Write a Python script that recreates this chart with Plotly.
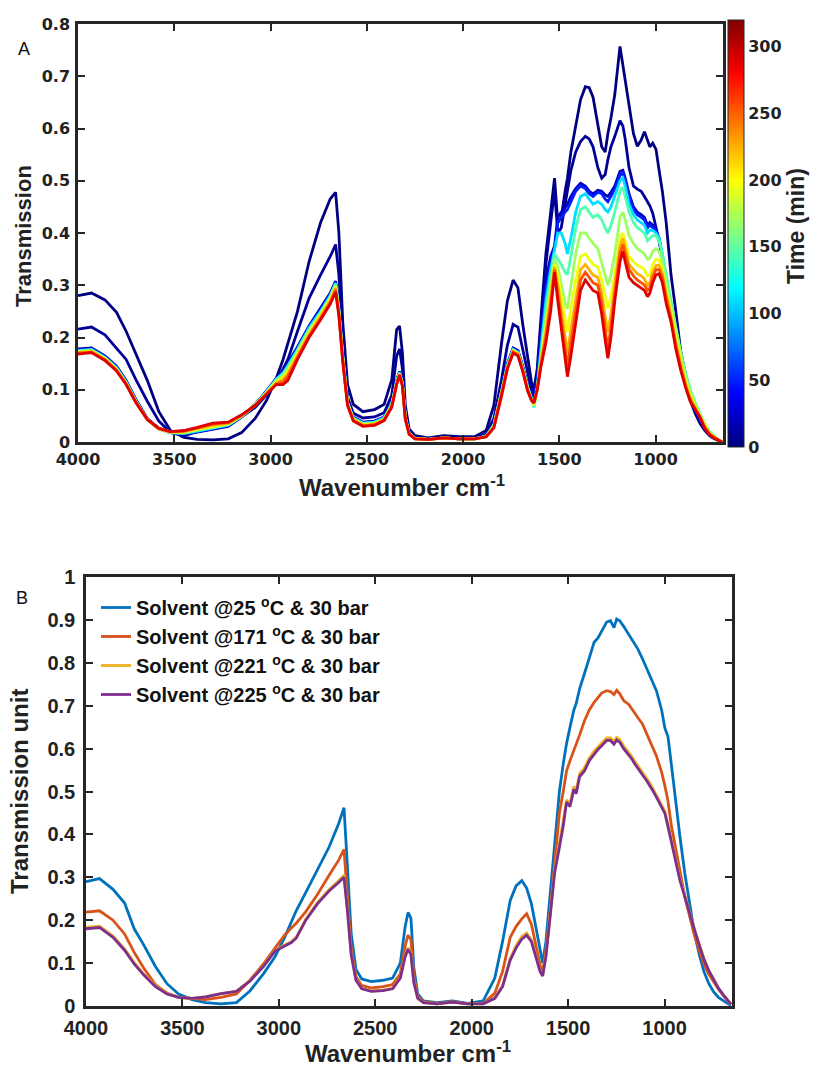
import plotly.graph_objects as go
from plotly.colors import sample_colorscale

# Shared wavenumber grid (cm^-1), high to low
wavenumber = [
    4000, 3930, 3860, 3800, 3750, 3700, 3640, 3580, 3520, 3450,
    3380, 3300, 3220, 3150, 3080, 3020, 2970, 2935, 2910, 2860,
    2800, 2740, 2690, 2662, 2645, 2625, 2600, 2570, 2520, 2460,
    2410, 2370, 2345, 2330, 2315, 2300, 2280, 2250, 2180, 2100,
    2020, 1940, 1880, 1840, 1800, 1770, 1740, 1715, 1690, 1665,
    1645, 1632, 1615, 1595, 1570, 1545, 1525, 1508, 1490, 1470,
    1458, 1440, 1415, 1390, 1365, 1345, 1325, 1300, 1280, 1262,
    1248, 1232, 1212, 1185, 1170, 1158, 1138, 1115, 1095, 1075,
    1058, 1042, 1030, 1015, 998, 982, 965, 945, 920, 895,
    870, 845, 820, 795, 770, 745, 720, 695, 670, 655]

# ---- Panel A: spectra recorded over time (minutes) ----
time_min = [0, 8, 20, 50, 110, 145, 170, 195, 225, 255, 290]

spec_t000 = [
    0.280, 0.285, 0.272, 0.248, 0.212, 0.170, 0.118, 0.058, 0.022, 0.009,
    0.005, 0.004, 0.006, 0.018, 0.045, 0.080, 0.122, 0.158, 0.188, 0.250,
    0.345, 0.420, 0.465, 0.478, 0.400, 0.230, 0.110, 0.072, 0.058, 0.062,
    0.072, 0.120, 0.215, 0.222, 0.170, 0.070, 0.025, 0.012, 0.008, 0.012,
    0.010, 0.010, 0.022, 0.070, 0.190, 0.270, 0.310, 0.295, 0.225, 0.160,
    0.115, 0.100, 0.140, 0.240, 0.360, 0.440, 0.505, 0.420, 0.430, 0.480,
    0.505, 0.555, 0.605, 0.655, 0.680, 0.678, 0.660, 0.605, 0.565, 0.555,
    0.590, 0.620, 0.665, 0.757, 0.720, 0.690, 0.640, 0.590, 0.566, 0.578,
    0.594, 0.575, 0.565, 0.572, 0.560, 0.520, 0.480, 0.420, 0.320, 0.250,
    0.175, 0.130, 0.095, 0.065, 0.042, 0.026, 0.014, 0.007, 0.003, 0.000]

spec_t008 = [
    0.216, 0.220, 0.205, 0.180, 0.158, 0.120, 0.078, 0.040, 0.018, 0.012,
    0.020, 0.026, 0.034, 0.048, 0.066, 0.090, 0.115, 0.140, 0.158, 0.212,
    0.275, 0.320, 0.355, 0.378, 0.320, 0.190, 0.085, 0.055, 0.046, 0.048,
    0.056, 0.090, 0.165, 0.178, 0.140, 0.055, 0.020, 0.010, 0.006, 0.010,
    0.008, 0.008, 0.015, 0.045, 0.120, 0.185, 0.225, 0.220, 0.175, 0.130,
    0.100, 0.090, 0.125, 0.220, 0.340, 0.420, 0.480, 0.400, 0.410, 0.455,
    0.480, 0.520, 0.555, 0.575, 0.585, 0.580, 0.565, 0.525, 0.505, 0.512,
    0.540, 0.565, 0.585, 0.615, 0.605, 0.580, 0.525, 0.490, 0.484, 0.480,
    0.470, 0.460, 0.452, 0.438, 0.412, 0.385, 0.355, 0.305, 0.250, 0.200,
    0.150, 0.112, 0.080, 0.055, 0.036, 0.022, 0.012, 0.006, 0.002, 0.000]

spec_t020 = [
    0.178, 0.180, 0.165, 0.145, 0.118, 0.082, 0.045, 0.026, 0.018, 0.016,
    0.019, 0.024, 0.030, 0.048, 0.072, 0.098, 0.122, 0.135, 0.150, 0.182,
    0.222, 0.255, 0.285, 0.308, 0.260, 0.170, 0.080, 0.048, 0.038, 0.040,
    0.048, 0.075, 0.118, 0.135, 0.115, 0.050, 0.018, 0.008, 0.005, 0.008,
    0.006, 0.006, 0.012, 0.035, 0.100, 0.150, 0.180, 0.175, 0.145, 0.110,
    0.090, 0.088, 0.125, 0.215, 0.310, 0.355, 0.375, 0.430, 0.440, 0.450,
    0.455, 0.470, 0.485, 0.495, 0.490, 0.480, 0.475, 0.482, 0.480, 0.473,
    0.470, 0.478, 0.490, 0.518, 0.520, 0.505, 0.475, 0.450, 0.440, 0.435,
    0.430, 0.415, 0.420, 0.415, 0.405, 0.385, 0.350, 0.300, 0.245, 0.195,
    0.150, 0.112, 0.083, 0.060, 0.042, 0.027, 0.015, 0.008, 0.003, 0.000]

spec_t050 = [
    0.176, 0.178, 0.163, 0.143, 0.116, 0.080, 0.044, 0.025, 0.018, 0.016,
    0.020, 0.025, 0.031, 0.048, 0.072, 0.098, 0.121, 0.134, 0.148, 0.180,
    0.220, 0.253, 0.283, 0.306, 0.258, 0.168, 0.078, 0.047, 0.037, 0.039,
    0.047, 0.074, 0.117, 0.134, 0.114, 0.049, 0.018, 0.008, 0.005, 0.008,
    0.006, 0.006, 0.012, 0.034, 0.098, 0.148, 0.178, 0.173, 0.143, 0.108,
    0.088, 0.080, 0.115, 0.200, 0.290, 0.345, 0.370, 0.420, 0.430, 0.440,
    0.445, 0.460, 0.480, 0.490, 0.485, 0.475, 0.470, 0.478, 0.475, 0.465,
    0.460, 0.470, 0.485, 0.510, 0.515, 0.500, 0.470, 0.445, 0.435, 0.430,
    0.425, 0.410, 0.415, 0.410, 0.405, 0.390, 0.355, 0.305, 0.255, 0.205,
    0.160, 0.120, 0.090, 0.066, 0.047, 0.030, 0.017, 0.009, 0.003, 0.000]

spec_t110 = [
    0.175, 0.177, 0.162, 0.142, 0.115, 0.079, 0.043, 0.025, 0.018, 0.016,
    0.021, 0.026, 0.032, 0.049, 0.072, 0.097, 0.120, 0.132, 0.146, 0.177,
    0.218, 0.250, 0.280, 0.304, 0.255, 0.166, 0.076, 0.046, 0.036, 0.038,
    0.046, 0.073, 0.116, 0.133, 0.113, 0.048, 0.017, 0.007, 0.005, 0.008,
    0.006, 0.006, 0.011, 0.033, 0.096, 0.146, 0.177, 0.172, 0.141, 0.106,
    0.085, 0.070, 0.105, 0.180, 0.270, 0.330, 0.365, 0.400, 0.400, 0.380,
    0.360, 0.390, 0.440, 0.470, 0.475, 0.465, 0.455, 0.460, 0.455, 0.445,
    0.440, 0.450, 0.470, 0.500, 0.505, 0.490, 0.455, 0.435, 0.425, 0.420,
    0.415, 0.400, 0.405, 0.405, 0.400, 0.390, 0.360, 0.315, 0.265, 0.215,
    0.168, 0.128, 0.097, 0.072, 0.052, 0.034, 0.019, 0.010, 0.003, 0.000]

spec_t145 = [
    0.174, 0.176, 0.161, 0.141, 0.114, 0.078, 0.043, 0.025, 0.018, 0.017,
    0.022, 0.028, 0.033, 0.049, 0.071, 0.096, 0.119, 0.130, 0.143, 0.175,
    0.215, 0.248, 0.278, 0.302, 0.253, 0.164, 0.075, 0.045, 0.035, 0.037,
    0.045, 0.072, 0.115, 0.132, 0.112, 0.047, 0.017, 0.007, 0.005, 0.008,
    0.006, 0.006, 0.011, 0.032, 0.094, 0.145, 0.176, 0.171, 0.140, 0.104,
    0.082, 0.066, 0.100, 0.170, 0.250, 0.315, 0.360, 0.350, 0.340, 0.325,
    0.320, 0.355, 0.410, 0.445, 0.450, 0.440, 0.430, 0.435, 0.425, 0.410,
    0.400, 0.415, 0.440, 0.480, 0.488, 0.470, 0.440, 0.420, 0.410, 0.405,
    0.400, 0.385, 0.390, 0.395, 0.395, 0.385, 0.360, 0.318, 0.270, 0.220,
    0.172, 0.132, 0.100, 0.075, 0.054, 0.036, 0.020, 0.011, 0.003, 0.000]

spec_t170 = [
    0.173, 0.175, 0.160, 0.140, 0.113, 0.078, 0.043, 0.025, 0.019, 0.018,
    0.023, 0.029, 0.034, 0.050, 0.071, 0.095, 0.117, 0.127, 0.140, 0.172,
    0.212, 0.246, 0.276, 0.300, 0.250, 0.162, 0.074, 0.044, 0.034, 0.036,
    0.044, 0.071, 0.114, 0.131, 0.111, 0.046, 0.016, 0.007, 0.005, 0.008,
    0.006, 0.006, 0.011, 0.031, 0.093, 0.144, 0.175, 0.170, 0.139, 0.103,
    0.080, 0.070, 0.100, 0.165, 0.235, 0.300, 0.350, 0.335, 0.300, 0.265,
    0.255, 0.300, 0.360, 0.400, 0.400, 0.390, 0.380, 0.370, 0.345, 0.320,
    0.300, 0.320, 0.360, 0.430, 0.440, 0.425, 0.395, 0.380, 0.370, 0.365,
    0.360, 0.350, 0.352, 0.365, 0.370, 0.365, 0.345, 0.305, 0.260, 0.210,
    0.165, 0.125, 0.095, 0.072, 0.052, 0.034, 0.018, 0.010, 0.003, 0.000]

spec_t195 = [
    0.172, 0.174, 0.159, 0.139, 0.112, 0.077, 0.043, 0.025, 0.019, 0.019,
    0.024, 0.030, 0.035, 0.050, 0.071, 0.094, 0.115, 0.123, 0.136, 0.169,
    0.209, 0.243, 0.273, 0.297, 0.248, 0.160, 0.073, 0.043, 0.033, 0.035,
    0.043, 0.070, 0.113, 0.130, 0.110, 0.045, 0.016, 0.007, 0.005, 0.008,
    0.006, 0.006, 0.011, 0.030, 0.092, 0.143, 0.174, 0.169, 0.138, 0.102,
    0.080, 0.072, 0.100, 0.160, 0.220, 0.290, 0.340, 0.320, 0.280, 0.235,
    0.210, 0.255, 0.310, 0.355, 0.360, 0.350, 0.340, 0.335, 0.310, 0.280,
    0.255, 0.280, 0.320, 0.390, 0.400, 0.385, 0.355, 0.345, 0.338, 0.335,
    0.330, 0.318, 0.320, 0.340, 0.350, 0.348, 0.330, 0.290, 0.250, 0.200,
    0.155, 0.118, 0.090, 0.068, 0.050, 0.032, 0.017, 0.009, 0.003, 0.000]

spec_t225 = [
    0.171, 0.173, 0.158, 0.138, 0.112, 0.077, 0.043, 0.025, 0.019, 0.020,
    0.026, 0.032, 0.036, 0.050, 0.070, 0.093, 0.113, 0.119, 0.131, 0.165,
    0.206, 0.240, 0.270, 0.294, 0.246, 0.158, 0.072, 0.042, 0.032, 0.034,
    0.042, 0.069, 0.112, 0.130, 0.109, 0.045, 0.016, 0.007, 0.005, 0.008,
    0.006, 0.006, 0.010, 0.029, 0.091, 0.142, 0.173, 0.168, 0.137, 0.101,
    0.080, 0.074, 0.100, 0.155, 0.210, 0.275, 0.335, 0.300, 0.255, 0.200,
    0.170, 0.215, 0.275, 0.330, 0.340, 0.330, 0.320, 0.315, 0.285, 0.240,
    0.210, 0.245, 0.300, 0.375, 0.390, 0.370, 0.340, 0.330, 0.322, 0.318,
    0.312, 0.300, 0.305, 0.325, 0.338, 0.338, 0.322, 0.283, 0.240, 0.190,
    0.148, 0.112, 0.085, 0.066, 0.049, 0.030, 0.016, 0.009, 0.003, 0.000]

spec_t255 = [
    0.170, 0.172, 0.157, 0.137, 0.111, 0.076, 0.043, 0.026, 0.020, 0.021,
    0.027, 0.034, 0.037, 0.051, 0.070, 0.092, 0.111, 0.115, 0.126, 0.162,
    0.203, 0.237, 0.267, 0.291, 0.244, 0.156, 0.071, 0.041, 0.031, 0.033,
    0.042, 0.068, 0.111, 0.129, 0.108, 0.044, 0.015, 0.006, 0.005, 0.008,
    0.006, 0.006, 0.010, 0.028, 0.090, 0.141, 0.172, 0.167, 0.136, 0.100,
    0.080, 0.075, 0.100, 0.150, 0.200, 0.265, 0.330, 0.285, 0.235, 0.175,
    0.145, 0.190, 0.250, 0.310, 0.325, 0.315, 0.305, 0.300, 0.265, 0.215,
    0.180, 0.220, 0.285, 0.360, 0.378, 0.360, 0.330, 0.318, 0.310, 0.305,
    0.300, 0.290, 0.295, 0.315, 0.330, 0.330, 0.315, 0.275, 0.235, 0.185,
    0.142, 0.108, 0.080, 0.064, 0.048, 0.028, 0.015, 0.008, 0.003, 0.000]

spec_t290 = [
    0.168, 0.171, 0.156, 0.136, 0.110, 0.076, 0.043, 0.026, 0.020, 0.022,
    0.028, 0.036, 0.038, 0.052, 0.070, 0.091, 0.110, 0.110, 0.118, 0.158,
    0.200, 0.234, 0.264, 0.287, 0.242, 0.154, 0.070, 0.040, 0.030, 0.032,
    0.041, 0.067, 0.110, 0.128, 0.107, 0.044, 0.015, 0.006, 0.005, 0.008,
    0.006, 0.006, 0.010, 0.027, 0.088, 0.140, 0.170, 0.165, 0.135, 0.098,
    0.080, 0.075, 0.100, 0.145, 0.190, 0.250, 0.325, 0.270, 0.220, 0.160,
    0.125, 0.165, 0.225, 0.290, 0.310, 0.300, 0.290, 0.285, 0.245, 0.195,
    0.160, 0.200, 0.270, 0.345, 0.365, 0.345, 0.315, 0.305, 0.300, 0.295,
    0.290, 0.278, 0.285, 0.305, 0.320, 0.322, 0.305, 0.265, 0.230, 0.178,
    0.138, 0.105, 0.077, 0.062, 0.048, 0.026, 0.014, 0.007, 0.003, 0.000]

spectra_A = [spec_t000, spec_t008, spec_t020, spec_t050, spec_t110, spec_t145,
             spec_t170, spec_t195, spec_t225, spec_t255, spec_t290]

# ---- Panel B: solvent at different temperatures ----
solvent_25C = [
    0.290, 0.297, 0.272, 0.240, 0.180, 0.142, 0.092, 0.052, 0.028, 0.015,
    0.008, 0.005, 0.008, 0.035, 0.075, 0.115, 0.160, 0.195, 0.222, 0.265,
    0.318, 0.370, 0.425, 0.462, 0.330, 0.170, 0.085, 0.063, 0.057, 0.060,
    0.065, 0.100, 0.185, 0.218, 0.205, 0.090, 0.028, 0.012, 0.008, 0.012,
    0.006, 0.012, 0.065, 0.150, 0.246, 0.280, 0.292, 0.275, 0.238, 0.180,
    0.125, 0.100, 0.150, 0.250, 0.390, 0.500, 0.565, 0.612, 0.650, 0.690,
    0.705, 0.740, 0.775, 0.812, 0.848, 0.858, 0.875, 0.895, 0.898, 0.882,
    0.902, 0.898, 0.885, 0.865, 0.855, 0.848, 0.832, 0.810, 0.790, 0.770,
    0.750, 0.735, 0.715, 0.690, 0.648, 0.628, 0.565, 0.485, 0.395, 0.310,
    0.235, 0.170, 0.120, 0.080, 0.052, 0.033, 0.020, 0.012, 0.005, 0.002]

solvent_171C = [
    0.219, 0.222, 0.200, 0.168, 0.125, 0.088, 0.050, 0.030, 0.020, 0.017,
    0.015, 0.020, 0.028, 0.060, 0.098, 0.135, 0.165, 0.182, 0.193, 0.220,
    0.260, 0.304, 0.340, 0.365, 0.260, 0.135, 0.068, 0.048, 0.042, 0.045,
    0.050, 0.075, 0.140, 0.165, 0.155, 0.070, 0.022, 0.010, 0.006, 0.010,
    0.005, 0.006, 0.030, 0.080, 0.160, 0.185, 0.203, 0.215, 0.190, 0.135,
    0.095, 0.078, 0.130, 0.210, 0.340, 0.450, 0.500, 0.548, 0.572, 0.595,
    0.610, 0.632, 0.665, 0.690, 0.708, 0.720, 0.730, 0.735, 0.733, 0.726,
    0.736, 0.728, 0.712, 0.703, 0.694, 0.686, 0.672, 0.658, 0.638, 0.618,
    0.602, 0.583, 0.566, 0.545, 0.513, 0.478, 0.422, 0.370, 0.315, 0.255,
    0.210, 0.165, 0.130, 0.098, 0.074, 0.055, 0.039, 0.024, 0.011, 0.004]

solvent_221C = [
    0.183, 0.186, 0.163, 0.133, 0.101, 0.074, 0.047, 0.029, 0.020, 0.018,
    0.021, 0.029, 0.034, 0.059, 0.093, 0.129, 0.142, 0.150, 0.160, 0.203,
    0.241, 0.271, 0.292, 0.305, 0.229, 0.123, 0.062, 0.041, 0.035, 0.037,
    0.041, 0.067, 0.118, 0.136, 0.123, 0.057, 0.019, 0.008, 0.005, 0.009,
    0.005, 0.005, 0.019, 0.047, 0.111, 0.140, 0.162, 0.170, 0.154, 0.113,
    0.082, 0.072, 0.118, 0.205, 0.316, 0.378, 0.428, 0.480, 0.472, 0.512,
    0.502, 0.542, 0.555, 0.578, 0.594, 0.604, 0.613, 0.625, 0.625, 0.616,
    0.626, 0.621, 0.606, 0.591, 0.582, 0.573, 0.559, 0.544, 0.532, 0.519,
    0.505, 0.492, 0.481, 0.471, 0.454, 0.423, 0.388, 0.349, 0.297, 0.258,
    0.217, 0.180, 0.144, 0.110, 0.083, 0.061, 0.042, 0.026, 0.012, 0.004]

solvent_225C = [
    0.180, 0.183, 0.160, 0.130, 0.098, 0.072, 0.045, 0.028, 0.020, 0.018,
    0.021, 0.029, 0.034, 0.058, 0.092, 0.128, 0.140, 0.148, 0.158, 0.200,
    0.238, 0.268, 0.288, 0.300, 0.225, 0.120, 0.060, 0.040, 0.034, 0.036,
    0.040, 0.065, 0.115, 0.132, 0.120, 0.055, 0.018, 0.008, 0.005, 0.009,
    0.005, 0.005, 0.018, 0.045, 0.107, 0.135, 0.156, 0.165, 0.150, 0.110,
    0.080, 0.070, 0.115, 0.200, 0.310, 0.370, 0.420, 0.475, 0.465, 0.505,
    0.495, 0.535, 0.548, 0.572, 0.588, 0.598, 0.607, 0.619, 0.619, 0.610,
    0.620, 0.615, 0.600, 0.585, 0.576, 0.567, 0.553, 0.539, 0.527, 0.514,
    0.500, 0.487, 0.476, 0.466, 0.449, 0.418, 0.383, 0.345, 0.293, 0.255,
    0.214, 0.178, 0.142, 0.108, 0.082, 0.060, 0.041, 0.026, 0.012, 0.004]

solvent_names = ["Solvent @25 <sup>o</sup>C & 30 bar",
                 "Solvent @171 <sup>o</sup>C & 30 bar",
                 "Solvent @221 <sup>o</sup>C & 30 bar",
                 "Solvent @225 <sup>o</sup>C & 30 bar"]
solvent_colors = ["#0072BD", "#D95319", "#EDB120", "#7E2F8E"]
spectra_B = [solvent_25C, solvent_171C, solvent_221C, solvent_225C]

for s in spectra_A + spectra_B:
    assert len(s) == len(wavenumber)

# MATLAB-style jet colour map for the time scale
jet = [[0.0, "rgb(0,0,128)"], [0.125, "rgb(0,0,255)"], [0.375, "rgb(0,255,255)"],
       [0.625, "rgb(255,255,0)"], [0.875, "rgb(255,0,0)"], [1.0, "rgb(128,0,0)"]]
t_max = 320

W, H = 813, 1068
AX = "#262626"

fig = go.Figure()

for t, spec in zip(time_min, spectra_A):
    col = sample_colorscale(jet, [t / t_max])[0]
    fig.add_trace(go.Scatter(x=wavenumber, y=spec, mode="lines", xaxis="x", yaxis="y",
                             line=dict(color=col, width=2.8), showlegend=False,
                             hoverinfo="skip"))

# colour bar for time
fig.add_trace(go.Scatter(
    x=[None], y=[None], mode="markers", xaxis="x", yaxis="y", showlegend=False,
    marker=dict(color=[0], colorscale=jet, cmin=0, cmax=t_max, showscale=True,
                colorbar=dict(x=728 / W, xanchor="left", y=1 - 20 / H, yanchor="top",
                              len=427 / H, lenmode="fraction", thickness=16,
                              thicknessmode="pixels", xpad=0, ypad=0,
                              outlinewidth=1, outlinecolor=AX,
                              tickvals=[0, 50, 100, 150, 200, 250, 300], ticks="",
                              tickfont=dict(family="DejaVu Sans", size=16,
                                            weight="bold", color="#222")))))

for i, (name, col, spec) in enumerate(zip(solvent_names, solvent_colors, spectra_B)):
    fig.add_trace(go.Scatter(x=wavenumber, y=spec, mode="lines", xaxis="x2", yaxis="y2",
                             name=name, legendgroup=f"g{i}",
                             line=dict(color=col, width=2.8), hoverinfo="skip"))

def axis_style(font, standoff):
    return dict(showline=True, linewidth=2.5, linecolor=AX, mirror="ticks",
                ticks="inside", ticklen=7, tickwidth=2, tickcolor=AX,
                showgrid=False, zeroline=False, tickfont=font, automargin=False,
                ticklabelstandoff=standoff)

fontA = dict(family="DejaVu Sans", size=16, weight="bold", color="#222")
fontB = dict(family="Liberation Sans", size=20, weight="bold", color="#222")
ticksA = [4000, 3500, 3000, 2500, 2000, 1500, 1000]

fig.update_layout(
    width=W, height=H, margin=dict(l=0, r=0, t=0, b=0),
    paper_bgcolor="white", plot_bgcolor="white",
    xaxis=dict(domain=[78 / W, 723 / W], range=[4000, 650], anchor="y",
               tickvals=ticksA, **axis_style(fontA, 1)),
    yaxis=dict(domain=[1 - 442 / H, 1 - 24 / H], range=[0, 0.8], dtick=0.1,
               anchor="x", **axis_style(fontA, 2)),
    xaxis2=dict(domain=[86 / W, 732 / W], range=[4000, 650], anchor="y2",
                tickvals=ticksA, **axis_style(fontB, 2)),
    yaxis2=dict(domain=[1 - 1006 / H, 1 - 577 / H], range=[0, 1], dtick=0.1,
                anchor="x2", **axis_style(fontB, 4)),
    legend=dict(x=96 / W, y=1 - 588 / H, xanchor="left", yanchor="top",
                bgcolor="rgba(0,0,0,0)", tracegroupgap=0, itemwidth=30,
                font=dict(family="Liberation Sans", size=20, weight="bold", color="#111")),
)

title_font = dict(family="Liberation Sans", size=24, weight="bold", color="#222")
annots = [
    dict(text="A", x=24 / W, y=1 - 49 / H, font=dict(family="Liberation Sans", size=18, color="#111")),
    dict(text="B", x=22 / W, y=1 - 598 / H, font=dict(family="Liberation Sans", size=18, color="#111")),
    dict(text="Transmission", x=24 / W, y=1 - 236 / H, textangle=-90,
         font=dict(family="Liberation Sans", size=22, weight="bold", color="#222")),
    dict(text="Wavenumber cm<sup>-1</sup>", x=402 / W, y=1 - 486 / H, font=title_font),
    dict(text="Time (min)", x=796 / W, y=1 - 226 / H, textangle=-90,
         font=dict(family="Liberation Sans", size=23, weight="bold", color="#222")),
    dict(text="Transmission unit", x=19 / W, y=1 - 792 / H, textangle=-90,
         font=dict(family="Liberation Sans", size=24, weight="bold", color="#222")),
    dict(text="Wavenumber cm<sup>-1</sup>", x=408 / W, y=1 - 1052 / H, font=title_font),
]
for a in annots:
    fig.add_annotation(xref="paper", yref="paper", xanchor="center", yanchor="middle",
                       showarrow=False, **a)

fig.write_html("out.html")
